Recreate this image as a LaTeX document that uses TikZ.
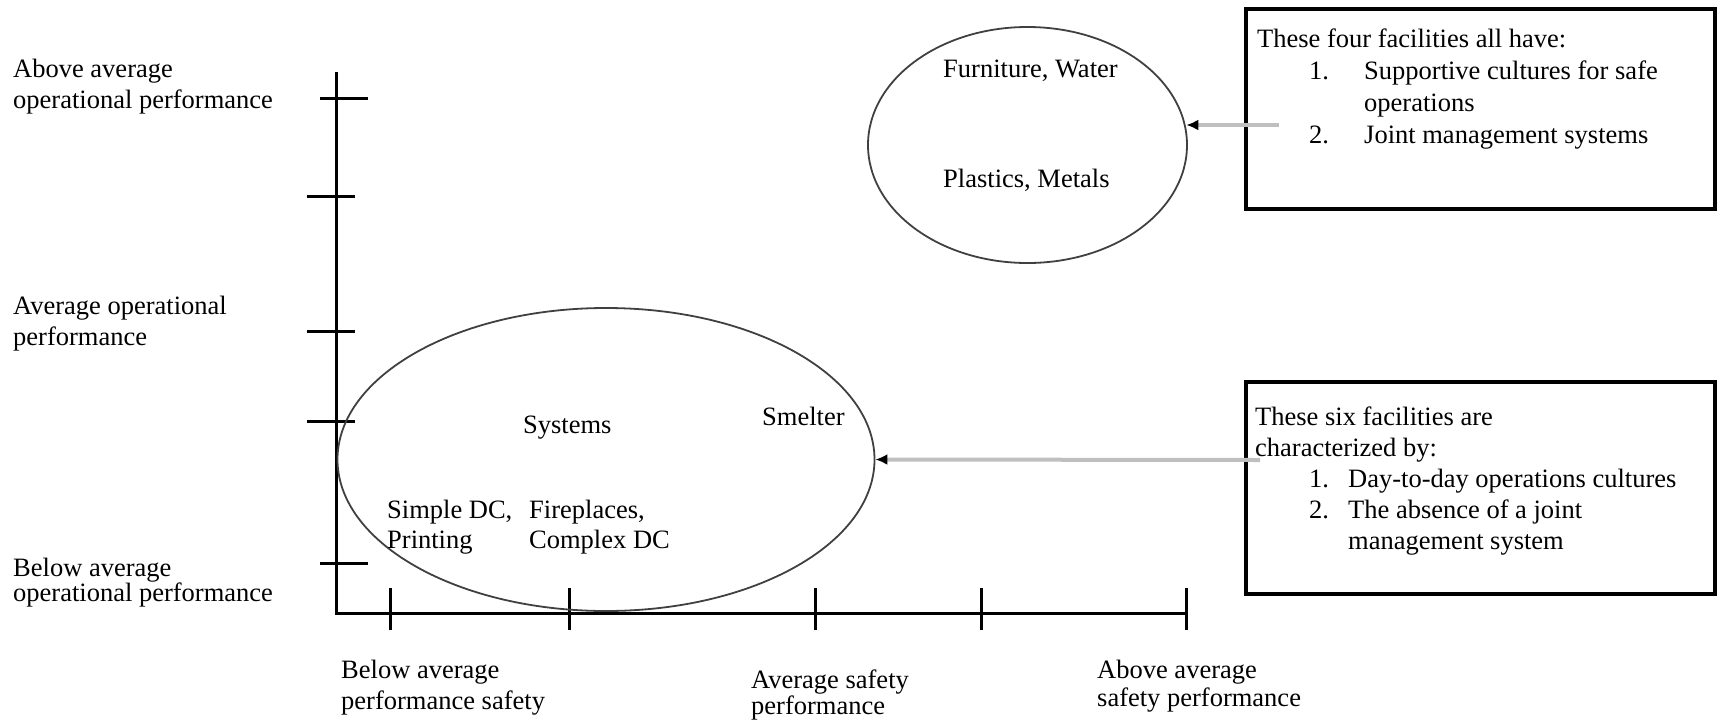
\documentclass[tikz,border=0pt]{standalone}
\usepackage{fontspec}
\setmainfont{Liberation Serif}
\usetikzlibrary{arrows.meta}
\usetikzlibrary{shapes.geometric}

\tikzset{
  axis/.style={line width=3pt},
  lbl/.style={inner sep=0pt, anchor=base west, font=\fontsize{26.5}{31}\selectfont},
  group/.style={draw=black!75, line width=1.8pt, ellipse, inner sep=0pt},
  notebox/.style={draw, line width=3.5pt, rectangle, inner sep=0pt},
  pointer/.style={draw=gray!50, line width=4pt, -{Latex[black,length=12pt,width=11pt]}}
}

\begin{document}
\begin{tikzpicture}[x=1pt,y=-1pt]
  \useasboundingbox (0,0) rectangle (1725,721);
  % axes and ticks
  \draw[axis] (336,72) -- (336,613) -- (1186,613);
  \foreach \y/\l in {98/320,196/307,331/307,421/307,563/320}
    \draw[axis] (\l,\y) -- +(48,0);
  \foreach \x in {390,569,815,981,1186}
    \draw[axis] (\x,588) -- (\x,630);

  % axis labels
  \node[lbl] (yhigh) at (13,77) {\begin{tabular}[t]{@{}l@{}}Above average\\operational performance\end{tabular}};
  \node[lbl] (yavg) at (13,314) {\begin{tabular}[t]{@{}l@{}}Average operational\\performance\end{tabular}};
  \node[lbl, font=\fontsize{26.5}{24}\selectfont] (ylow) at (13,576) {\begin{tabular}[t]{@{}l@{}}Below average\\operational performance\end{tabular}};
  \node[lbl] (xlow) at (341,678) {\begin{tabular}[t]{@{}l@{}}Below average\\performance safety\end{tabular}};
  \node[lbl, font=\fontsize{26.5}{26}\selectfont] (xavg) at (751,688) {\begin{tabular}[t]{@{}l@{}}Average safety\\performance\end{tabular}};
  \node[lbl, font=\fontsize{26.5}{28}\selectfont] (xhigh) at (1097,678) {\begin{tabular}[t]{@{}l@{}}Above average\\safety performance\end{tabular}};

  % groups of facilities
  \node[group, minimum width=319, minimum height=236] (fourell) at (1027.5,145) {};
  \node[group, minimum width=537, minimum height=303] (sixell) at (606,459.5) {};
  \node[lbl] (furn) at (943,77) {Furniture, Water};
  \node[lbl] (plast) at (943,187) {Plastics, Metals};
  \node[lbl] (syst) at (523,433) {Systems};
  \node[lbl] (smelt) at (762,425) {Smelter};
  \node[lbl, font=\fontsize{26.5}{30}\selectfont] (simple) at (387,518) {\begin{tabular}[t]{@{}l@{}}Simple DC,\\Printing\end{tabular}};
  \node[lbl, font=\fontsize{26.5}{30}\selectfont] (firepl) at (529,518) {\begin{tabular}[t]{@{}l@{}}Fireplaces,\\Complex DC\end{tabular}};

  % notes
  \node[notebox, minimum width=469, minimum height=200] (fourbox) at (1480.5,109) {};
  \node[notebox, minimum width=469, minimum height=212] (sixbox) at (1480.5,488) {};
  \node[lbl, font=\fontsize{26.5}{32}\selectfont] (fournote) at (1257,47) {\begin{tabular}[t]{@{}p{52pt}@{}p{55pt}@{}l@{}}
    \multicolumn{3}{@{}l@{}}{These four facilities all have:}\\
    & 1. & Supportive cultures for safe\\
    & & operations\\
    & 2. & Joint management systems
  \end{tabular}};
  \node[lbl, font=\fontsize{26.5}{31}\selectfont] (sixnote) at (1255,425) {\begin{tabular}[t]{@{}p{54pt}@{}p{39pt}@{}l@{}}
    \multicolumn{3}{@{}l@{}}{These six facilities are}\\
    \multicolumn{3}{@{}l@{}}{characterized by:}\\
    & 1. & Day-to-day operations cultures\\
    & 2. & The absence of a joint\\
    & & management system
  \end{tabular}};

  % pointers
  \coordinate (fourfrom) at (1279,125);
  \coordinate (sixfrom) at (1260,460);
  \draw[pointer] (fourfrom) -- (fourfrom -| fourell.6);
  \draw[pointer] (sixfrom) -- (sixell.east);
\end{tikzpicture}
\end{document}
